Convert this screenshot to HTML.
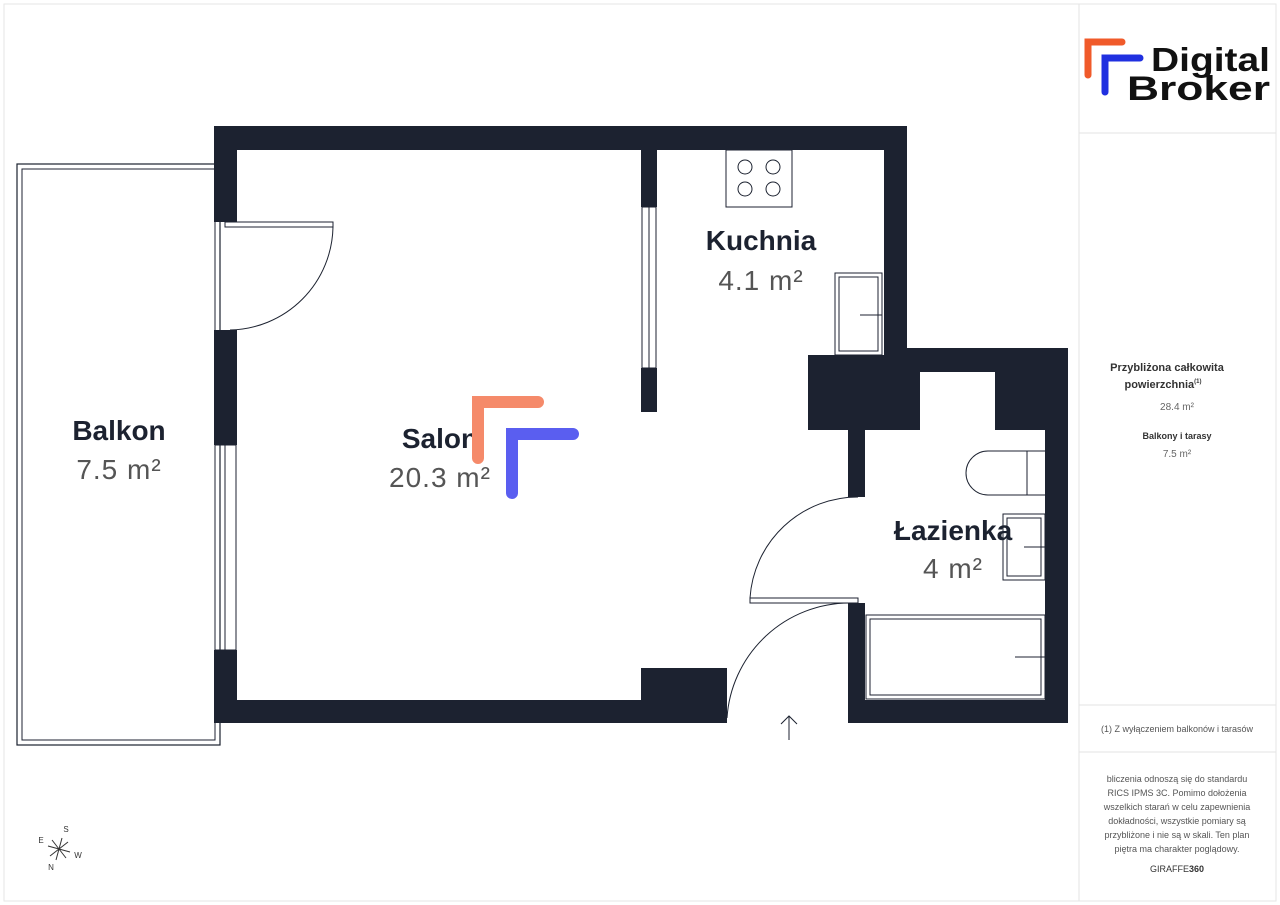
<!DOCTYPE html>
<html><head><meta charset="utf-8"><style>
body{margin:0;background:#fff;}
svg{display:block;font-family:"Liberation Sans",sans-serif;}
</style></head><body>
<svg width="1280" height="905" viewBox="0 0 1280 905">
<rect x="4" y="4" width="1272" height="897" fill="none" stroke="#e6e6e6"/>
<line x1="1079" y1="4" x2="1079" y2="901" stroke="#e3e3e3"/>
<line x1="1079" y1="133" x2="1276" y2="133" stroke="#e3e3e3"/>
<line x1="1079" y1="705" x2="1276" y2="705" stroke="#e3e3e3"/>
<line x1="1079" y1="752" x2="1276" y2="752" stroke="#e3e3e3"/>
<!-- logo -->
<path d="M1088 75 V42 H1122" fill="none" stroke="#f05a2a" stroke-width="7" stroke-linecap="round"/>
<path d="M1105 92 V58 H1140" fill="none" stroke="#2030e0" stroke-width="7" stroke-linecap="round"/>
<text x="1151" y="71" font-size="33" font-weight="bold" fill="#111" textLength="119" lengthAdjust="spacingAndGlyphs">Digital</text>
<text x="1127" y="100" font-size="34" font-weight="bold" fill="#111" textLength="143" lengthAdjust="spacingAndGlyphs">Broker</text>
<g text-anchor="middle" fill="#333">
<text x="1167" y="371" font-size="11" font-weight="bold">Przybliżona całkowita</text>
<text x="1163" y="388" font-size="11" font-weight="bold">powierzchnia<tspan font-size="6" dy="-5">(1)</tspan></text>
<text x="1177" y="410" font-size="10" fill="#666">28.4 m²</text>
<text x="1177" y="439" font-size="9" font-weight="bold">Balkony i tarasy</text>
<text x="1177" y="457" font-size="10" fill="#666">7.5 m²</text>
<text x="1177" y="732" font-size="9" fill="#555">(1) Z wyłączeniem balkonów i tarasów</text>
<g font-size="9" fill="#555">
<text x="1177" y="782">bliczenia odnoszą się do standardu</text>
<text x="1177" y="796">RICS IPMS 3C. Pomimo dołożenia</text>
<text x="1177" y="810">wszelkich starań w celu zapewnienia</text>
<text x="1177" y="824">dokładności, wszystkie pomiary są</text>
<text x="1177" y="838">przybliżone i nie są w skali. Ten plan</text>
<text x="1177" y="852">piętra ma charakter poglądowy.</text>
</g>
<text x="1177" y="872" font-size="9" fill="#333">GIRAFFE<tspan font-weight="bold">360</tspan></text>
</g>
<!-- balcony -->
<rect x="17" y="164" width="203" height="581" fill="none" stroke="#1c2230" stroke-width="1.2"/>
<rect x="22" y="169" width="193" height="571" fill="none" stroke="#1c2230" stroke-width="1"/>
<rect x="20" y="167" width="197" height="575" fill="none" stroke="#fff" stroke-width="2"/>
<g fill="#1c2230">
<rect x="214" y="126" width="693" height="24"/>
<rect x="214" y="126" width="23" height="96"/>
<rect x="214" y="330" width="23" height="115"/>
<rect x="214" y="650" width="23" height="73"/>
<rect x="214" y="700" width="513" height="23"/>
<rect x="641" y="668" width="86" height="55"/>
<rect x="641" y="150" width="16" height="57"/>
<rect x="641" y="368" width="16" height="44"/>
<rect x="884" y="126" width="23" height="230"/>
<rect x="808" y="355" width="112" height="75"/>
<rect x="907" y="348" width="161" height="24"/>
<rect x="995" y="348" width="73" height="82"/>
<rect x="1045" y="348" width="23" height="375"/>
<rect x="848" y="420" width="17" height="77"/>
<rect x="848" y="603" width="17" height="120"/>
<rect x="848" y="700" width="220" height="23"/>
</g>
<!-- windows -->
<g fill="none" stroke="#1c2230" stroke-width="1">
<rect x="215" y="445" width="21" height="205"/>
<line x1="225" y1="445" x2="225" y2="650"/>
<rect x="642" y="207" width="14" height="161"/>
<line x1="649" y1="207" x2="649" y2="368"/>
<!-- doors -->
<rect x="225" y="222" width="108" height="5"/>
<path d="M333 227 A105 105 0 0 1 230 330"/>
<rect x="750" y="598" width="108" height="5"/>
<path d="M750 598 A108 108 0 0 1 858 497"/>
<rect x="849" y="603" width="5" height="110"/>
<path d="M849 603 A123 123 0 0 0 727 718"/>
<path d="M789 740 V716 M781 724 L789 716 L797 724"/>
<!-- stove -->
<rect x="726" y="150" width="66" height="57"/>
<circle cx="745" cy="167" r="7"/><circle cx="773" cy="167" r="7"/>
<circle cx="745" cy="189" r="7"/><circle cx="773" cy="189" r="7"/>
<!-- kitchen sink -->
<rect x="835" y="273" width="47" height="82"/>
<rect x="839" y="277" width="39" height="74"/>
<line x1="860" y1="315" x2="882" y2="315"/>
<!-- toilet -->
<path d="M1045 451 H988 A22 22 0 0 0 988 495 H1045"/>
<line x1="1027" y1="451" x2="1027" y2="495"/>
<!-- bath sink -->
<rect x="1003" y="514" width="42" height="66"/>
<rect x="1007" y="518" width="34" height="58"/>
<line x1="1024" y1="547" x2="1045" y2="547"/>
<!-- bath -->
<rect x="866" y="615" width="179" height="84"/>
<rect x="870" y="619" width="171" height="76"/>
<line x1="1015" y1="657" x2="1045" y2="657"/>
</g>
<!-- labels -->
<g text-anchor="middle" font-size="28">
<text x="119" y="440" font-weight="bold" fill="#1c2230">Balkon</text>
<text x="119" y="479" fill="#555" letter-spacing="1">7.5 m²</text>
<text x="440" y="448" font-weight="bold" fill="#1c2230">Salon</text>
<text x="440" y="487" fill="#555" letter-spacing="1">20.3 m²</text>
<text x="761" y="250" font-weight="bold" fill="#1c2230">Kuchnia</text>
<text x="761" y="290" fill="#555" letter-spacing="1">4.1 m²</text>
<text x="953" y="540" font-weight="bold" fill="#1c2230">Łazienka</text>
<text x="953" y="578" fill="#555" letter-spacing="1">4 m²</text>
</g>
<!-- watermark -->
<path d="M478 458 V402 H538" fill="none" stroke="#f58a6a" stroke-width="12" stroke-linecap="round"/>
<path d="M512 493 V434 H573" fill="none" stroke="#5a5ef0" stroke-width="12" stroke-linecap="round"/>
<!-- compass -->
<g stroke="#333" stroke-width="1">
<line x1="48" y1="846" x2="70" y2="852"/><line x1="62" y1="838" x2="56" y2="860"/>
<line x1="50" y1="856" x2="68" y2="842"/><line x1="52" y1="840" x2="66" y2="858"/>
</g>
<g font-size="8" fill="#333" text-anchor="middle">
<text x="66" y="832">S</text><text x="41" y="843">E</text><text x="78" y="858">W</text><text x="51" y="870">N</text>
</g>
</svg>
</body></html>
